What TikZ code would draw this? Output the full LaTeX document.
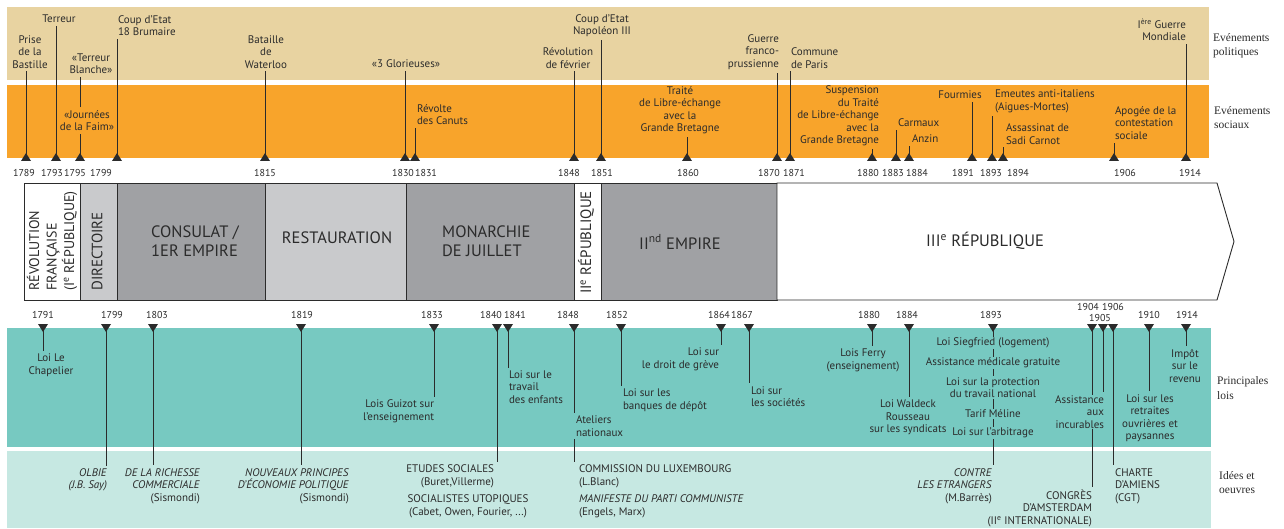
\documentclass[tikz,border=0pt]{standalone}
\usepackage{fontspec}
\setmainfont{PT Sans}
\newfontfamily\bandfont{Liberation Serif}
\usetikzlibrary{calc}

\definecolor{polcol}{HTML}{E8D3A1}
\definecolor{soccol}{HTML}{F8A42B}
\definecolor{loicol}{HTML}{77C9C1}
\definecolor{ideecol}{HTML}{C6E8E2}
\definecolor{empcol}{HTML}{A0A1A4}
\definecolor{restcol}{HTML}{C9CACC}
\definecolor{txtcol}{HTML}{2B2B2B}

\tikzset{
  lbl/.style={font=\fontsize{11}{12.5}\selectfont, text=txtcol, inner sep=0pt, outer sep=3pt, align=center},
  yr/.style={font=\fontsize{10}{12}\selectfont, text=txtcol, inner sep=0pt},
  stem/.style={draw=txtcol, line width=0.8pt},
  era/.style={font=\fontsize{16.5}{19}\selectfont, text=txtcol, inner sep=0pt, align=left},
  vera/.style={era, rotate=90, anchor=west, font=\fontsize{15}{17.5}\selectfont},
  eraseg/.style={draw=txtcol, line width=0.9pt},
  bandlbl/.style={font=\bandfont\fontsize{11.5}{14.5}\selectfont, text=txtcol, inner sep=0pt, anchor=west, align=left}
}

\begin{document}
\begin{tikzpicture}[x=1pt, y=-1pt]
    \useasboundingbox (0,0) rectangle (1284,529);

    % bands
    \fill[polcol] (7,7) rectangle (1209,80);
    \fill[soccol] (7,85) rectangle (1209,158);
    \fill[loicol] (7,328) rectangle (1211,447);
    \fill[ideecol] (7,451) rectangle (1211,528);

    \node[bandlbl] (bpol) at (1213,45.5) {Evénements\\politiques};
    \node[bandlbl] (bsoc) at (1214,117.5) {Evénements\\sociaux};
    \node[bandlbl] (bloi) at (1217,388) {Principales\\lois};
    \node[bandlbl] (bidee) at (1219,482.5) {Idées et\\oeuvres};

    % timeline of regimes
    \filldraw[eraseg, fill=white] (24,183) rectangle (80,300);
    \filldraw[eraseg, fill=restcol] (80,183) rectangle (117,300);
    \filldraw[eraseg, fill=empcol] (117,183) rectangle (265,300);
    \filldraw[eraseg, fill=restcol] (265,183) rectangle (406,300);
    \filldraw[eraseg, fill=empcol] (406,183) rectangle (574,300);
    \filldraw[eraseg, fill=white] (574,183) rectangle (601,300);
    \filldraw[eraseg, fill=empcol] (601,183) rectangle (777,300);
    \filldraw[eraseg, fill=white] (777,183) -- (1217,183) -- (1234,241.5) -- (1217,300) -- (777,300) -- cycle;

    \node[vera, font=\fontsize{14}{17.5}\selectfont] (revol) at (52,291) {RÉVOLUTION\\FRANÇAISE\\(I\textsuperscript{e} RÉPUBLIQUE)};
    \node[vera] (direct) at (97,291) {DIRECTOIRE};
    \node[era, anchor=west] (consulat) at (151,241.5) {CONSULAT /\\1ER EMPIRE};
    \node[era] (restau) at (337,238) {RESTAURATION};
    \node[era, anchor=west] (monarchie) at (442,241.5) {MONARCHIE\\DE JUILLET};
    \node[vera] (rep2) at (586,294) {II\textsuperscript{e} RÉPUBLIQUE};
    \node[era] (emp2) at (680,242) {II\textsuperscript{nd} EMPIRE};
    \node[era] (rep3) at (985,241) {III\textsuperscript{e} RÉPUBLIQUE};

    % years
    \foreach \yr/\xx in {1789/24,1793/52,1795/75,1799/101,1815/265,1830/403,1831/426,1848/569,1851/602,1860/688,1870/769,1871/794,1880/868,1883/893,1884/917,1891/963,1893/991,1894/1018,1906/1125,1914/1190}
        \node[yr] (ty\yr) at (\xx,173) {\yr};
    \foreach \yr/\xx/\yy in {1791/43/315,1799/112/315,1803/157/315,1819/302/315,1833/432/315,1840/491/315,1841/515/315,1848/568/315,1852/617/315,1864/719/315,1867/742/315,1880/869/315,1884/907/315,1893/991/315,1904/1088/307,1906/1113/307,1905/1100/318,1910/1149/315,1914/1187/315}
        \node[yr] (by\yr) at (\xx,\yy) {\yr};

    % markers
    \foreach \yr/\xx in {1789/26,1793/56,1795/80,1799/117,1815/265,1830/405,1831/415,1848/574,1851/601,1860/687,1870/777,1871/790,1880/872,1883/896,1884/909,1891/972,1893/992,1894/1003,1906/1114,1914/1186}{
        \coordinate (t\yr) at (\xx,154);
        \fill[txtcol] (\xx-5,161) -- (\xx+5,161) -- (\xx,153) -- cycle;
    }
    \foreach \yr/\xx in {1791/43,1799/106,1803/153,1819/301,1833/434,1840/497,1841/508,1848/574,1852/621,1864/721,1867/749,1880/872,1884/909,1893/993,1904/1092,1905/1103,1906/1113,1910/1149,1914/1186}{
        \coordinate (b\yr) at (\xx,331);
        \fill[txtcol] (\xx-5,324) -- (\xx+5,324) -- (\xx,332) -- cycle;
    }

    % political and social events
    \node[lbl] (bastille) at (30,52) {Prise\\de la\\Bastille};
    \node[lbl] (terreur) at (59,19) {Terreur};
    \node[lbl] (tblanche) at (91,63.5) {«Terreur\\Blanche»};
    \node[lbl] (faim) at (87,120.5) {«Journées\\de la Faim»};
    \node[lbl, anchor=west, align=left] (brumaire) at (115,25.5) {Coup d'Etat\\18 Brumaire};
    \node[lbl] (waterloo) at (266,52) {Bataille\\de\\Waterloo};
    \node[lbl] (glorieuses) at (406,64) {«3 Glorieuses»};
    \node[lbl, anchor=west, align=left] (canuts) at (414,114.5) {Révolte\\des Canuts};
    \node[lbl] (fevrier) at (568,58) {Révolution\\de février};
    \node[lbl] (napoleon) at (602,25.5) {Coup d'Etat\\Napoléon III};
    \node[lbl] (libre) at (680,110) {Traité\\de Libre-échange\\avec la\\Grande Bretagne};
    \node[lbl, anchor=east, align=right] (guerre) at (782,52) {Guerre\\franco-\\prussienne};
    \node[lbl, anchor=west, align=left] (commune) at (788,58) {Commune\\de Paris};
    \node[lbl, anchor=east, align=right] (suspension) at (882,116) {Suspension\\du Traité\\de Libre-échange\\avec la\\Grande Bretagne};
    \node[lbl, anchor=west] (carmaux) at (895,123) {Carmaux};
    \node[lbl, anchor=west] (anzin) at (909,139) {Anzin};
    \node[lbl] (fourmies) at (960,95) {Fourmies};
    \node[lbl, anchor=west, align=left] (aigues) at (992,101.5) {Emeutes anti-italiens\\(Aigues-Mortes)};
    \node[lbl, anchor=west, align=left] (carnot) at (1003,134) {Assassinat de\\Sadi Carnot};
    \node[lbl, anchor=west, align=left] (apogee) at (1112,123) {Apogée de la\\contestation\\sociale};
    \node[lbl, anchor=east, align=right] (mondiale) at (1189,30) {I\textsuperscript{ère} Guerre\\Mondiale};

    \draw[stem] (t1789) -- (t1789 |- bastille.south);
    \draw[stem] (t1793) -- (t1793 |- terreur.south);
    \draw[stem] (t1795) -- (t1795 |- faim.south);
    \draw[stem] (t1795 |- faim.north) -- (t1795 |- tblanche.south);
    \draw[stem] (t1799) -- (t1799 |- brumaire.south);
    \draw[stem] (t1815) -- (t1815 |- waterloo.south);
    \draw[stem] (t1830) -- (t1830 |- glorieuses.south);
    \draw[stem] (t1831) -- (t1831 |- canuts.south);
    \draw[stem] (t1848) -- (t1848 |- fevrier.south);
    \draw[stem] (t1851) -- (t1851 |- napoleon.south);
    \draw[stem] (t1860) -- (t1860 |- libre.south);
    \draw[stem] (t1870) -- (t1870 |- guerre.south);
    \draw[stem] (t1871) -- (t1871 |- commune.south);
    \draw[stem] (t1880) -- (t1880 |- suspension.south);
    \draw[stem] (t1883) -- (t1883 |- carmaux.south);
    \draw[stem] (t1884) -- (t1884 |- anzin.south);
    \draw[stem] (t1891) -- (t1891 |- fourmies.south);
    \draw[stem] (t1893) -- (t1893 |- aigues.south);
    \draw[stem] (t1894) -- (t1894 |- carnot.south);
    \draw[stem] (t1906) -- (t1906 |- apogee.south);
    \draw[stem] (t1914) -- (t1914 |- mondiale.south);

    % laws and works
    \node[lbl] (chapelier) at (51,365) {Loi Le\\Chapelier};
    \node[lbl, anchor=east, align=right] (olbie) at (110,480) {\textit{OLBIE}\\\textit{(J.B. Say)}};
    \node[lbl, anchor=east, align=right] (richesse) at (203,486) {\textit{DE LA RICHESSE}\\\textit{COMMERCIALE}\\(Sismondi)};
    \node[lbl, anchor=east, align=right] (principes) at (352,486) {\textit{NOUVEAUX PRINCIPES}\\\textit{D'ÉCONOMIE POLITIQUE}\\(Sismondi)};
    \node[lbl, anchor=east, align=right] (guizot) at (437,411) {Lois Guizot sur\\l'enseignement};
    \node[lbl, anchor=east, align=right] (etudes) at (497,476.5) {ETUDES SOCIALES\\(Buret,Villerme)};
    \node[lbl] (utopiques) at (468,506.5) {SOCIALISTES UTOPIQUES\\(Cabet, Owen, Fourier, ...)};
    \node[lbl, anchor=west, align=left] (enfants) at (506,387) {Loi sur le\\travail\\des enfants};
    \node[lbl, anchor=west, align=left] (ateliers) at (573,426) {Ateliers\\nationaux};
    \node[lbl, anchor=west, align=left] (luxembourg) at (576,476.5) {COMMISSION DU LUXEMBOURG\\(L.Blanc)};
    \node[lbl, anchor=west, align=left] (manifeste) at (576,506.5) {\textit{MANIFESTE DU PARTI COMMUNISTE}\\(Engels, Marx)};
    \node[lbl, anchor=west, align=left] (banques) at (620,400) {Loi sur les\\banques de dépôt};
    \node[lbl, anchor=east, align=right] (greve) at (722,359.5) {Loi sur\\le droit de grève};
    \node[lbl, anchor=west, align=left] (societes) at (748,396.5) {Loi sur\\les sociétés};
    \node[lbl] (ferry) at (863,360.5) {Lois Ferry\\(enseignement)};
    \node[lbl] (waldeck) at (908,417.5) {Loi Waldeck\\Rousseau\\sur les syndicats};
    \node[lbl, anchor=east, align=right] (etrangers) at (995,486) {\textit{CONTRE}\\\textit{LES ETRANGERS}\\(M.Barrès)};
    \node[lbl, anchor=east, align=right] (amsterdam) at (1095,508) {CONGRÈS\\D'AMSTERDAM\\(II\textsuperscript{e} INTERNATIONALE)};
    \node[lbl, anchor=west, align=left] (amiens) at (1112,486) {CHARTE\\D'AMIENS\\(CGT)};
    \node[lbl] (retraites) at (1150,418) {Loi sur les\\retraites\\ouvrières et\\paysannes};
    \node[lbl] (impot) at (1185,366) {Impôt\\sur le\\revenu};

    \draw[stem] (b1791) -- (b1791 |- chapelier.north);
    \draw[stem] (b1799) -- (b1799 |- olbie.north);
    \draw[stem] (b1803) -- (b1803 |- richesse.north);
    \draw[stem] (b1819) -- (b1819 |- principes.north);
    \draw[stem] (b1833) -- (b1833 |- guizot.north);
    \draw[stem] (b1840) -- (b1840 |- etudes.north);
    \draw[stem] (b1841) -- (b1841 |- enfants.north);
    \draw[stem] (b1848) -- (b1848 |- ateliers.north);
    \draw[stem] (b1848 |- ateliers.south) -- (b1848 |- luxembourg.north);
    \draw[stem] (b1852) -- (b1852 |- banques.north);
    \draw[stem] (b1864) -- (b1864 |- greve.north);
    \draw[stem] (b1867) -- (b1867 |- societes.north);
    \draw[stem] (b1880) -- (b1880 |- ferry.north);
    \draw[stem] (b1884) -- (b1884 |- waldeck.north);
    \draw[stem] (b1893) -- (b1893 |- etrangers.north);
    \draw[stem] (b1904) -- (b1904 |- amsterdam.north);
    \draw[stem] (b1906) -- (b1906 |- amiens.north);
    \draw[stem] (b1910) -- (b1910 |- retraites.north);
    \draw[stem] (b1914) -- (b1914 |- impot.north);

    % 1893 laws and 1905, set over their lines
    \node[lbl, fill=loicol, inner sep=1pt, outer sep=2pt] (siegfried) at (993,343) {Loi Siegfried (logement)};
    \node[lbl, fill=loicol, inner sep=1pt] (medicale) at (993,363) {Assistance médicale gratuite};
    \node[lbl, fill=loicol, inner sep=1pt] (protection) at (993,387.5) {Loi sur la protection\\du travail national};
    \node[lbl, fill=loicol, inner sep=1pt] (meline) at (993,414) {Tarif Méline};
    \node[lbl, fill=loicol, inner sep=1pt] (arbitrage) at (993,433) {Loi sur l'arbitrage};
    \node[lbl, anchor=east, align=right, fill=loicol, inner sep=1pt] (incurables) at (1108,412) {Assistance\\aux\\incurables};
    \draw[stem] (b1905) -- (b1905 |- incurables.north);
\end{tikzpicture}
\end{document}
